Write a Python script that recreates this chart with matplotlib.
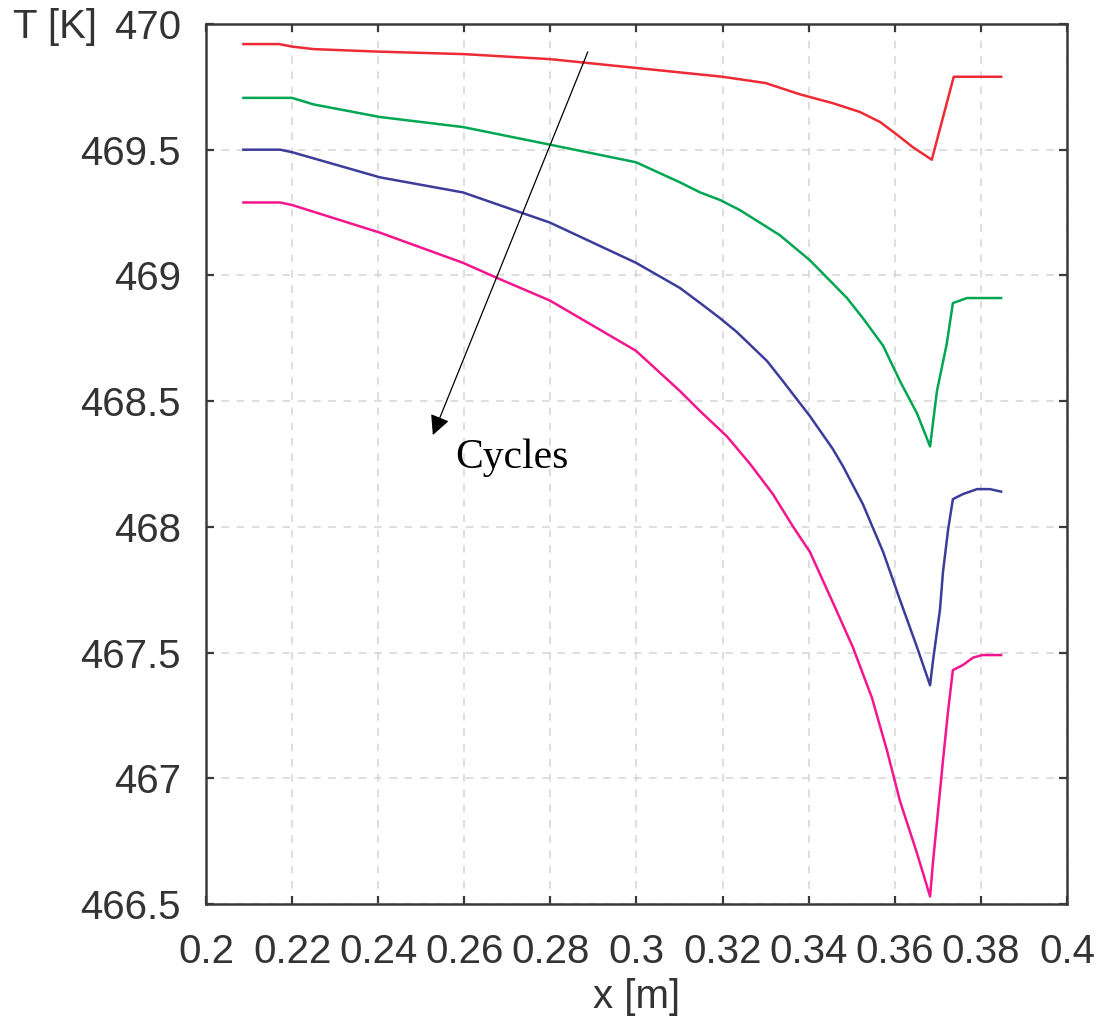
import matplotlib
matplotlib.use("Agg")
import matplotlib.pyplot as plt

# Temperature profiles T(x) for successive cycles
x_red = [0.2087, 0.217, 0.220, 0.225, 0.240, 0.260, 0.280, 0.300, 0.320, 0.330,
         0.338, 0.3456, 0.3519, 0.3566, 0.3605, 0.3642, 0.3686, 0.3737, 0.3847]
t_red = [469.92, 469.92, 469.91, 469.90, 469.89, 469.88, 469.86, 469.825, 469.79,
         469.765, 469.72, 469.685, 469.65, 469.61, 469.56, 469.51, 469.46, 469.79,
         469.79]

x_green = [0.2087, 0.220, 0.225, 0.2404, 0.2597, 0.2799, 0.2999, 0.3101, 0.3148,
           0.3194, 0.3240, 0.3333, 0.3403, 0.3489, 0.3526, 0.3573, 0.3612, 0.3652,
           0.3682, 0.3698, 0.3721, 0.3735, 0.3768, 0.3847]
t_green = [469.706, 469.706, 469.68, 469.63, 469.59, 469.52, 469.45, 469.37,
           469.33, 469.30, 469.26, 469.16, 469.06, 468.91, 468.83, 468.72,
           468.58, 468.45, 468.32, 468.54, 468.73, 468.89, 468.91, 468.91]

x_blue = [0.2087, 0.2172, 0.220, 0.2404, 0.2597, 0.2799, 0.2999, 0.3101, 0.3148,
          0.3194, 0.3233, 0.3303, 0.3340, 0.3403, 0.3456, 0.3480, 0.3526, 0.3573,
          0.3612, 0.3652, 0.3682, 0.3689, 0.3705, 0.3712, 0.3724, 0.3735, 0.3758,
          0.3791, 0.3821, 0.3847]
t_blue = [469.50, 469.50, 469.49, 469.39, 469.33, 469.21, 469.05, 468.95, 468.89,
          468.83, 468.775, 468.66, 468.58, 468.44, 468.31, 468.24, 468.09, 467.90,
          467.71, 467.52, 467.37, 467.47, 467.67, 467.82, 467.99, 468.11, 468.13,
          468.15, 468.15, 468.14]

x_pink = [0.2087, 0.2172, 0.220, 0.2404, 0.2597, 0.2676, 0.2799, 0.2999, 0.3101,
          0.3148, 0.3210, 0.3264, 0.3317, 0.3364, 0.3403, 0.3456, 0.3503, 0.3547,
          0.3582, 0.3612, 0.3652, 0.3682, 0.3689, 0.370, 0.3712, 0.3724, 0.3735,
          0.3758, 0.3782, 0.3803, 0.3847]
t_pink = [469.29, 469.29, 469.28, 469.17, 469.05, 468.99, 468.90, 468.70, 468.54,
          468.46, 468.36, 468.25, 468.13, 468.00, 467.90, 467.70, 467.52, 467.32,
          467.11, 466.91, 466.70, 466.53, 466.67, 466.86, 467.07, 467.27, 467.43,
          467.45, 467.48, 467.49, 467.49]

x_ticks = [0.2, 0.22, 0.24, 0.26, 0.28, 0.3, 0.32, 0.34, 0.36, 0.38, 0.4]
x_tick_labels = ["0.2", "0.22", "0.24", "0.26", "0.28", "0.3", "0.32", "0.34",
                 "0.36", "0.38", "0.4"]
y_ticks = [466.5, 467, 467.5, 468, 468.5, 469, 469.5, 470]
y_tick_labels = ["466.5", "467", "467.5", "468", "468.5", "469", "469.5", "470"]

plt.rcParams['font.family'] = ['Liberation Sans', 'DejaVu Sans']

fig = plt.figure(figsize=(11.02, 10.24), dpi=100)
ax = fig.add_axes([0.1869, 0.1172, 0.7813, 0.8594])

ax.plot(x_red, t_red, color='#ee2a35', lw=1.8)
ax.plot(x_green, t_green, color='#00a651', lw=1.8)
ax.plot(x_blue, t_blue, color='#3c3c9a', lw=1.8)
ax.plot(x_pink, t_pink, color='#f5158f', lw=1.8)

ax.set_xlim(0.2, 0.4)
ax.set_ylim(466.5, 470)
ax.set_xticks(x_ticks)
ax.set_xticklabels(x_tick_labels)
ax.set_yticks(y_ticks)
ax.set_yticklabels(y_tick_labels)

ax.grid(True, color='#d4d4d4', linestyle=(0, (5, 5)), lw=1.1)
ax.tick_params(direction='in', length=6, width=1.6, color='#3a3a3a',
               top=True, right=True, labelsize=29, labelcolor='#333333')
ax.tick_params(axis='x', pad=21)
ax.tick_params(axis='y', pad=18)
for s in ax.spines.values():
    s.set_linewidth(1.8)
    s.set_color('#3a3a3a')

# arrow showing the direction of increasing cycles
ax.annotate('', xy=(0.2527, 468.365), xytext=(0.2887, 469.889),
            arrowprops=dict(arrowstyle='-|>', color='black', lw=0.9,
                            mutation_scale=30, shrinkA=0, shrinkB=0))
ax.text(0.2578, 468.234, 'Cycles', family='Liberation Serif', fontsize=30,
        ha='left', va='baseline', color='black')

fig.text(13 / 1102, 1 - 27 / 1024, 'T [K]', fontsize=29, color='#333333',
         ha='left', va='center')
fig.text(636.5 / 1102, 1 - 997 / 1024, 'x [m]', fontsize=29, color='#333333',
         ha='center', va='center')

fig.savefig('out.png', dpi=100)
